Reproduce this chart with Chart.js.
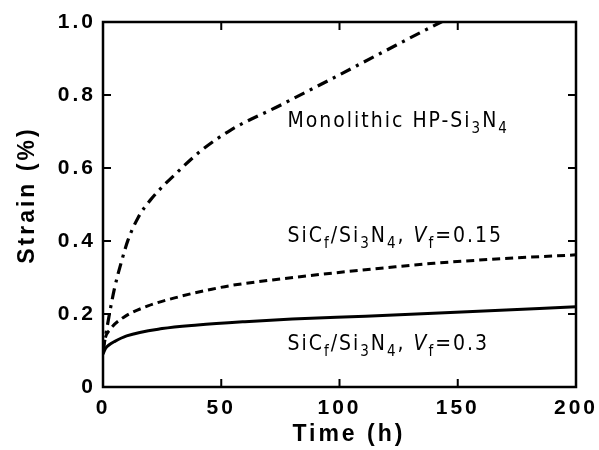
<!DOCTYPE html>
<html>
<head>
<meta charset="utf-8">
<script src="https://cdn.jsdelivr.net/npm/chart.js@4/dist/chart.umd.min.js"></script>
<style>
  html, body { margin: 0; padding: 0; background: #fff; }
  #wrap { width: 599px; height: 450px; position: relative; }
</style>
</head>
<body>
<div id="wrap"><canvas id="c"></canvas></div>
<script>
// ---- Data ----
const xTicks = [0, 50, 100, 150, 200];
const yTicks = [0, 0.2, 0.4, 0.6, 0.8, 1.0];

const monoTime   = [0, 1, 3, 5, 8, 10.6, 15, 20, 32.5, 41, 54, 75, 96, 117, 143, 150];
const monoStrain = [0.10, 0.137, 0.21, 0.274, 0.348, 0.403, 0.466, 0.512, 0.595, 0.645, 0.704, 0.772, 0.842, 0.913, 1.0, 1.022];

const v15Time   = [0, 1, 3, 8.5, 19, 32, 46, 55, 75, 97, 120, 140, 170, 200];
const v15Strain = [0.10, 0.135, 0.158, 0.19, 0.222, 0.247, 0.268, 0.279, 0.296, 0.312, 0.327, 0.339, 0.352, 0.362];

const v30Time   = [0, 1, 2.5, 5, 10, 25, 40, 60, 80, 111, 154, 200];
const v30Strain = [0.09, 0.105, 0.115, 0.125, 0.14, 0.16, 0.170, 0.179, 0.186, 0.194, 0.206, 0.220];

const toPts = (xs, ys) => xs.map((x, i) => ({ x: x, y: ys[i] }));

// annotation labels (segments: text, sub = subscript, it = italic)
const labels = [
  { x: 78, y: 0.712, segs: [{t: 'Monolithic HP-Si'}, {t: '3', sub: true}, {t: 'N'}, {t: '4', sub: true}] },
  { x: 78, y: 0.397, segs: [{t: 'SiC'}, {t: 'f', sub: true}, {t: '/Si'}, {t: '3', sub: true}, {t: 'N'}, {t: '4', sub: true}, {t: ', '}, {t: 'V', it: true}, {t: 'f', sub: true}, {t: '=0.15'}] },
  { x: 78, y: 0.101, segs: [{t: 'SiC'}, {t: 'f', sub: true}, {t: '/Si'}, {t: '3', sub: true}, {t: 'N'}, {t: '4', sub: true}, {t: ', '}, {t: 'V', it: true}, {t: 'f', sub: true}, {t: '=0.3'}] }
];

const spacingPlugin = {
  id: 'spacing',
  beforeLayout(chart) { chart.ctx.letterSpacing = '3px'; },
  beforeDraw(chart) { chart.ctx.letterSpacing = '3px'; }
};

const framePlugin = {
  id: 'frame',
  afterDatasetsDraw(chart) {
    const { ctx, chartArea: a, scales } = chart;
    ctx.save();
    ctx.strokeStyle = '#000';
    ctx.lineWidth = 2.5;
    ctx.strokeRect(a.left, a.top, a.right - a.left, a.bottom - a.top);
    ctx.lineWidth = 2;
    const L = 8;
    ctx.beginPath();
    xTicks.forEach(v => {
      if (v <= 0 || v >= 200) return;
      const px = scales.x.getPixelForValue(v);
      ctx.moveTo(px, a.bottom); ctx.lineTo(px, a.bottom - L);
      ctx.moveTo(px, a.top); ctx.lineTo(px, a.top + L);
    });
    yTicks.forEach(v => {
      if (v <= 0 || v >= 1) return;
      const py = scales.y.getPixelForValue(v);
      ctx.moveTo(a.left, py); ctx.lineTo(a.left + L, py);
      ctx.moveTo(a.right, py); ctx.lineTo(a.right - L, py);
    });
    ctx.stroke();

    // annotations
    ctx.fillStyle = '#000';
    ctx.textBaseline = 'alphabetic';
    ctx.textAlign = 'left';
    ctx.letterSpacing = '2px';
    const fam = '"DejaVu Sans Condensed", "DejaVu Sans", sans-serif';
    labels.forEach(lb => {
      let px = scales.x.getPixelForValue(lb.x);
      const py = scales.y.getPixelForValue(lb.y);
      lb.segs.forEach(s => {
        if (s.sub) {
          ctx.font = '15px ' + fam;
          ctx.fillText(s.t, px, py + 6);
        } else if (s.it) {
          ctx.font = 'italic 21px ' + fam;
          ctx.fillText(s.t, px, py);
        } else {
          ctx.font = '21px ' + fam;
          ctx.fillText(s.t, px, py);
        }
        px += ctx.measureText(s.t).width;
      });
    });
    ctx.restore();
  }
};

const tickFont = { family: '"Liberation Sans", Arial, sans-serif', size: 21, weight: 'bold' };
const titleFont = { family: '"Liberation Sans", Arial, sans-serif', size: 23, weight: 'bold', lineHeight: 1.2 };

new Chart(document.getElementById('c'), {
  type: 'line',
  data: {
    datasets: [
      { label: 'Monolithic HP-Si3N4', data: toPts(monoTime, monoStrain),
        borderColor: '#000', borderWidth: 3.2, borderDash: [11, 6, 3, 6],
        pointRadius: 0, cubicInterpolationMode: 'monotone', fill: false },
      { label: 'SiCf/Si3N4, Vf=0.15', data: toPts(v15Time, v15Strain),
        borderColor: '#000', borderWidth: 3, borderDash: [8, 5],
        pointRadius: 0, cubicInterpolationMode: 'monotone', fill: false },
      { label: 'SiCf/Si3N4, Vf=0.3', data: toPts(v30Time, v30Strain),
        borderColor: '#000', borderWidth: 3,
        pointRadius: 0, cubicInterpolationMode: 'monotone', fill: false }
    ]
  },
  options: {
    responsive: true,
    maintainAspectRatio: false,
    animation: false,
    layout: { padding: { left: 0, right: 23, top: 22, bottom: 0 } },
    plugins: { legend: { display: false }, tooltip: { enabled: false } },
    scales: {
      x: {
        type: 'linear', min: 0, max: 200,
        afterFit(s) { s.height = 63; s.paddingLeft = 0; s.paddingRight = 0; },
        afterBuildTicks(s) { s.ticks = xTicks.map(v => ({ value: v })); },
        grid: { display: false, drawTicks: false },
        border: { display: false },
        ticks: { color: '#000', font: tickFont, padding: 9, maxRotation: 0, autoSkip: false,
                 callback: v => String(v) },
        title: { display: true, text: '  Time (h)', color: '#000', font: titleFont,
                 padding: { top: 0, bottom: 2 } }
      },
      y: {
        type: 'linear', min: 0, max: 1,
        afterFit(s) { s.width = 103; s.paddingTop = 0; s.paddingBottom = 0; },
        afterBuildTicks(s) { s.ticks = yTicks.map(v => ({ value: v })); },
        grid: { display: false, drawTicks: false },
        border: { display: false },
        ticks: { color: '#000', font: tickFont, padding: 7, autoSkip: false,
                 callback: v => (v === 0 ? '0' : v.toFixed(1)) },
        title: { display: true, text: '  Strain (%)', color: '#000', font: titleFont,
                 padding: { top: 14, bottom: 0 } }
      }
    }
  },
  plugins: [spacingPlugin, framePlugin]
});
</script>
</body>
</html>
